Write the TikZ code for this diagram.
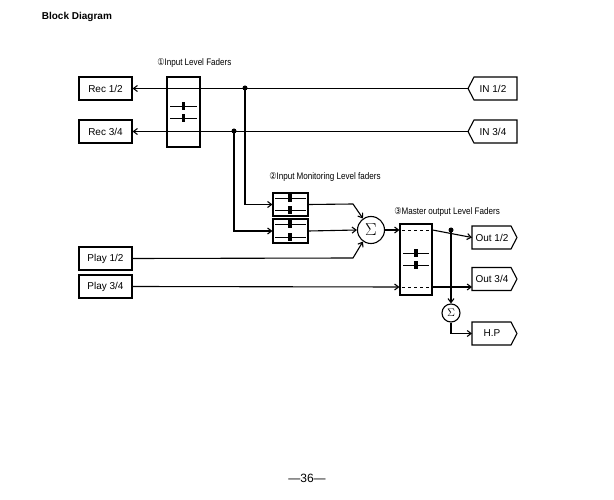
\documentclass[tikz,border=0pt]{standalone}
\usepackage{fontspec}
\setmainfont{Liberation Sans}
\newfontfamily\dejavu{DejaVu Sans}
\usetikzlibrary{arrows.meta,shapes.geometric,shapes.symbols}
\begin{document}
\begin{tikzpicture}[x=1pt,y=-1pt,line width=1.1pt,
  box/.style={draw,minimum width=53pt,minimum height=23pt,inner sep=0pt,font=\fontsize{10}{11}\selectfont},
  sig/.style={draw,circle,inner sep=0pt},
  ar/.style={-{Straight Barb[length=4pt,width=6pt]}},
  dot/.style={circle,fill,inner sep=0pt,minimum size=5pt},
  lab/.style={font=\fontsize{9.5}{11}\selectfont,anchor=west,xscale=0.85}]
\useasboundingbox (0,0) rectangle (614,500);
\node[anchor=west,font=\bfseries\fontsize{10}{11}\selectfont] (title) at (38,17) {Block Diagram};
\node[font=\fontsize{12}{13}\selectfont] (pg) at (307,478) {—36—};
% left boxes
\node[box] (rec12) at (105.5,88.5) {Rec 1/2};
\node[box] (rec34) at (105.5,131.5) {Rec 3/4};
\node[box] (play12) at (105.5,258.5) {Play 1/2};
\node[box] (play34) at (105.5,286.5) {Play 3/4};
% IN boxes (pointing left)
\foreach \n/\y/\t in {in12/88.5/{IN 1/2},in34/131.5/{IN 3/4}}{
  \draw (468,\y) -- (474,\y-11.5) -- (517,\y-11.5) -- (517,\y+11.5) -- (474,\y+11.5) -- cycle;
  \node[font=\fontsize{10}{11}\selectfont] (\n) at (493,\y) {\t};
  \coordinate (\n t) at (468,\y);}
% Out boxes (pointing right)
\foreach \n/\y/\t in {out12/237.5/{Out 1/2},out34/279/{Out 3/4},hp/333.5/{H.P}}{
  \draw (472,\y-11.5) -- (511,\y-11.5) -- (517,\y) -- (511,\y+11.5) -- (472,\y+11.5) -- cycle;
  \node[font=\fontsize{10}{11}\selectfont] (\n) at (492,\y) {\t};
  \coordinate (\n t) at (472,\y);}
% fader 1
\node[draw,minimum width=33pt,minimum height=70pt,inner sep=0pt] (f1) at (183.5,112) {};
\draw[line width=0.8pt,dashed] (169,88) -- (199,88) (169,131) -- (199,131);
\foreach \y in {106,118}{\draw[line width=0.8pt] (170,\y) -- (197,\y); \fill (181.5,\y-4) rectangle (185,\y+4);}
\node[lab] (l1) at (154,63) {{\dejavu ①}Input Level Faders};
% monitor faders
\node[draw,minimum width=35pt,minimum height=23pt,inner sep=0pt] (m1) at (290.5,204.5) {};
\node[draw,minimum width=35pt,minimum height=24pt,inner sep=0pt] (m2) at (290.5,231) {};
\foreach \y in {198,210,224,237}{\draw[line width=0.8pt] (275,\y) -- (306,\y); \fill (288,\y-4) rectangle (291.5,\y+4);}
\node[lab] (l2) at (266,177) {{\dejavu ②}Input Monitoring Level faders};
% sigma
\node[sig,minimum size=27pt,font=\fontsize{17}{18}\selectfont] (s1) at (371,230) {$\Sigma$};
% master fader
\node[draw,minimum width=32pt,minimum height=71pt,inner sep=0pt] (f3) at (416,259.5) {};
\draw[line width=0.8pt,dashed] (402,230) -- (430,230) (402,287) -- (430,287);
\foreach \y in {253,265}{\draw[line width=0.8pt] (403,\y) -- (429,\y); \fill (414,\y-4) rectangle (417.5,\y+4);}
\node[lab] (l3) at (391,212) {{\dejavu ③}Master output Level Faders};
\node[sig,minimum size=18pt,font=\fontsize{11}{12}\selectfont] (s2) at (451,313) {$\Sigma$};
% connections
\coordinate (d1) at (245,88);
\coordinate (d2) at (234,131);
\node[dot] at (d1) {};
\node[dot] at (d2) {};
\draw[ar] (in12t) -- (rec12.east);
\draw[ar] (in34t) -- (rec34.east);
\draw[ar] (d1) |- (m1.west);
\draw[ar] (d2) |- (m2.west);
\draw[ar] (m1.east) -- (353,204) -- (s1.125);
\draw[ar] (m2.east) -- (s1.west);
\draw[ar] (play12.east) -- (353,258) -- (s1.235);
\draw[ar] (s1.east) -- (f3.west |- 0,230);
\draw[ar] (play34.east) -- (f3.west |- 0,287);
\coordinate (d3) at (451,230);
\node[dot] at (d3) {};
\draw[ar] (f3.east |- 0,230) -- (out12t);
\draw[ar] (f3.east |- 0,287) -- (out34t |- 0,287);
\draw[ar] (d3) -- (s2.north);
\draw[ar] (s2.south) |- (hpt);
\end{tikzpicture}
\end{document}
